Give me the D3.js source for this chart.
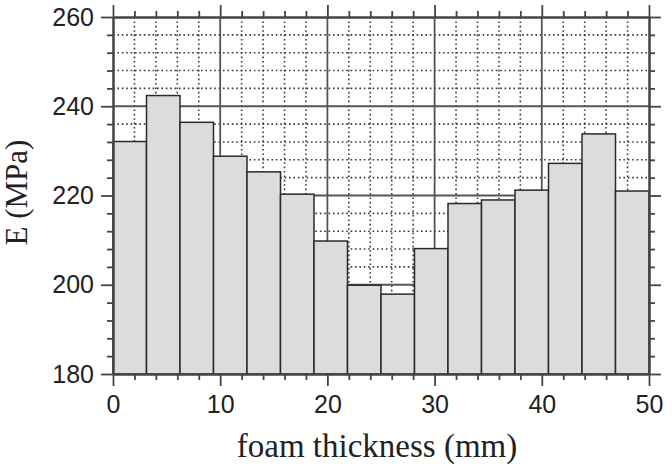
<!DOCTYPE html>
<html>
<head>
<meta charset="utf-8">
<script src="https://cdn.jsdelivr.net/npm/d3@7"></script>
<style>
  html, body { margin: 0; padding: 0; background: #fff; }
  svg { display: block; }
</style>
</head>
<body>
<svg id="chart" width="672" height="468"></svg>
<script>
// bin edges are thickness / 16 across 0..50 mm
const binCount = 16;
const xMax = 50;
const modulus = [232.1, 242.4, 236.4, 228.8, 225.3, 220.3, 209.8, 199.9,
                 197.9, 208.1, 218.2, 219.0, 221.2, 227.2, 233.8, 221.0];
const xTicks = [0, 10, 20, 30, 40, 50];
const yTicks = [180, 200, 220, 240, 260];
const xMinorTicks = d3.range(0, 50.001, 2);
const yMinorTicks = d3.range(180, 260.001, 4);

const svgWidth = 672, svgHeight = 468;
const margin = { top: 17, right: 23, bottom: 94, left: 113 };
const width = svgWidth - margin.left - margin.right;
const height = svgHeight - margin.top - margin.bottom;

const svg = d3.select("#chart")
  .append("g")
  .attr("transform", `translate(${margin.left},${margin.top})`);

const x = d3.scaleLinear().domain([0, xMax]).range([0, width]);
const y = d3.scaleLinear().domain([180, 260]).range([height, 0]);

const bins = modulus.map((v, i) => ({
  x0: i * xMax / binCount,
  x1: (i + 1) * xMax / binCount,
  value: v
}));

// dotted minor grid
const minorX = xMinorTicks.filter(t => t % 10 !== 0);
const minorY = yMinorTicks.filter(t => t % 20 !== 0);
svg.append("g").selectAll("line")
  .data(minorX).enter().append("line")
  .attr("x1", d => x(d)).attr("x2", d => x(d))
  .attr("y1", 0).attr("y2", height)
  .style("stroke", "#3a3a3a").style("stroke-width", 1.6)
  .style("stroke-dasharray", "1.6,2.8");
svg.append("g").selectAll("line")
  .data(minorY).enter().append("line")
  .attr("x1", 0).attr("x2", width)
  .attr("y1", d => y(d)).attr("y2", d => y(d))
  .style("stroke", "#3a3a3a").style("stroke-width", 1.6)
  .style("stroke-dasharray", "1.6,2.8");

// solid major grid
svg.append("g").selectAll("line")
  .data(xTicks.slice(1, -1)).enter().append("line")
  .attr("x1", d => x(d)).attr("x2", d => x(d))
  .attr("y1", 0).attr("y2", height)
  .style("stroke", "#555").style("stroke-width", 1.8);
svg.append("g").selectAll("line")
  .data(yTicks.slice(1, -1)).enter().append("line")
  .attr("x1", 0).attr("x2", width)
  .attr("y1", d => y(d)).attr("y2", d => y(d))
  .style("stroke", "#555").style("stroke-width", 1.8);

// bars
svg.selectAll(".bar")
  .data(bins).enter().append("rect")
  .attr("class", "bar")
  .attr("x", d => x(d.x0))
  .attr("y", d => y(d.value))
  .attr("width", d => x(d.x1) - x(d.x0))
  .attr("height", d => height - y(d.value))
  .style("fill", "#dcdcdc")
  .style("stroke", "#2a2a2a")
  .style("stroke-width", 1.5);

// axes on all four sides, major + minor ticks outward
function styleAxis(g) {
  g.selectAll("path").style("stroke", "#444").style("stroke-width", 2);
  g.selectAll("line").style("stroke", "#444").style("stroke-width", 1.8);
}
const tickFont = "Liberation Sans, Arial, sans-serif";

const axB = svg.append("g").attr("transform", `translate(0,${height})`)
  .call(d3.axisBottom(x).tickValues(xTicks).tickSize(12).tickPadding(9).tickSizeOuter(0));
axB.selectAll("text").style("font-size", "25px").style("font-family", tickFont).style("fill", "#222");
svg.append("g").attr("transform", `translate(0,${height})`)
  .call(d3.axisBottom(x).tickValues(minorX).tickSize(6).tickFormat("").tickSizeOuter(0))
  .call(styleAxis);
styleAxis(axB);

const axT = svg.append("g")
  .call(d3.axisTop(x).tickValues(xTicks).tickSize(12).tickFormat("").tickSizeOuter(0));
svg.append("g")
  .call(d3.axisTop(x).tickValues(minorX).tickSize(6).tickFormat("").tickSizeOuter(0))
  .call(styleAxis);
styleAxis(axT);

const axL = svg.append("g")
  .call(d3.axisLeft(y).tickValues(yTicks).tickSize(12).tickPadding(7).tickSizeOuter(0));
axL.selectAll("text").style("font-size", "25px").style("font-family", tickFont).style("fill", "#222");
svg.append("g")
  .call(d3.axisLeft(y).tickValues(minorY).tickSize(6).tickFormat("").tickSizeOuter(0))
  .call(styleAxis);
styleAxis(axL);

const axR = svg.append("g").attr("transform", `translate(${width},0)`)
  .call(d3.axisRight(y).tickValues(yTicks).tickSize(12).tickFormat("").tickSizeOuter(0));
svg.append("g").attr("transform", `translate(${width},0)`)
  .call(d3.axisRight(y).tickValues(minorY).tickSize(6).tickFormat("").tickSizeOuter(0))
  .call(styleAxis);
styleAxis(axR);

// axis titles
svg.append("text")
  .attr("x", width / 2 - 4)
  .attr("y", height + 83)
  .attr("text-anchor", "middle")
  .style("font-family", "Liberation Serif, Times New Roman, serif")
  .style("font-size", "33px")
  .style("fill", "#222")
  .text("foam thickness (mm)");

svg.append("text")
  .attr("transform", `translate(${-86},${height / 2 - 3}) rotate(-90)`)
  .attr("text-anchor", "middle")
  .style("font-family", "Liberation Serif, Times New Roman, serif")
  .style("font-size", "31px")
  .style("fill", "#222")
  .text("E (MPa)");
</script>
</body>
</html>
